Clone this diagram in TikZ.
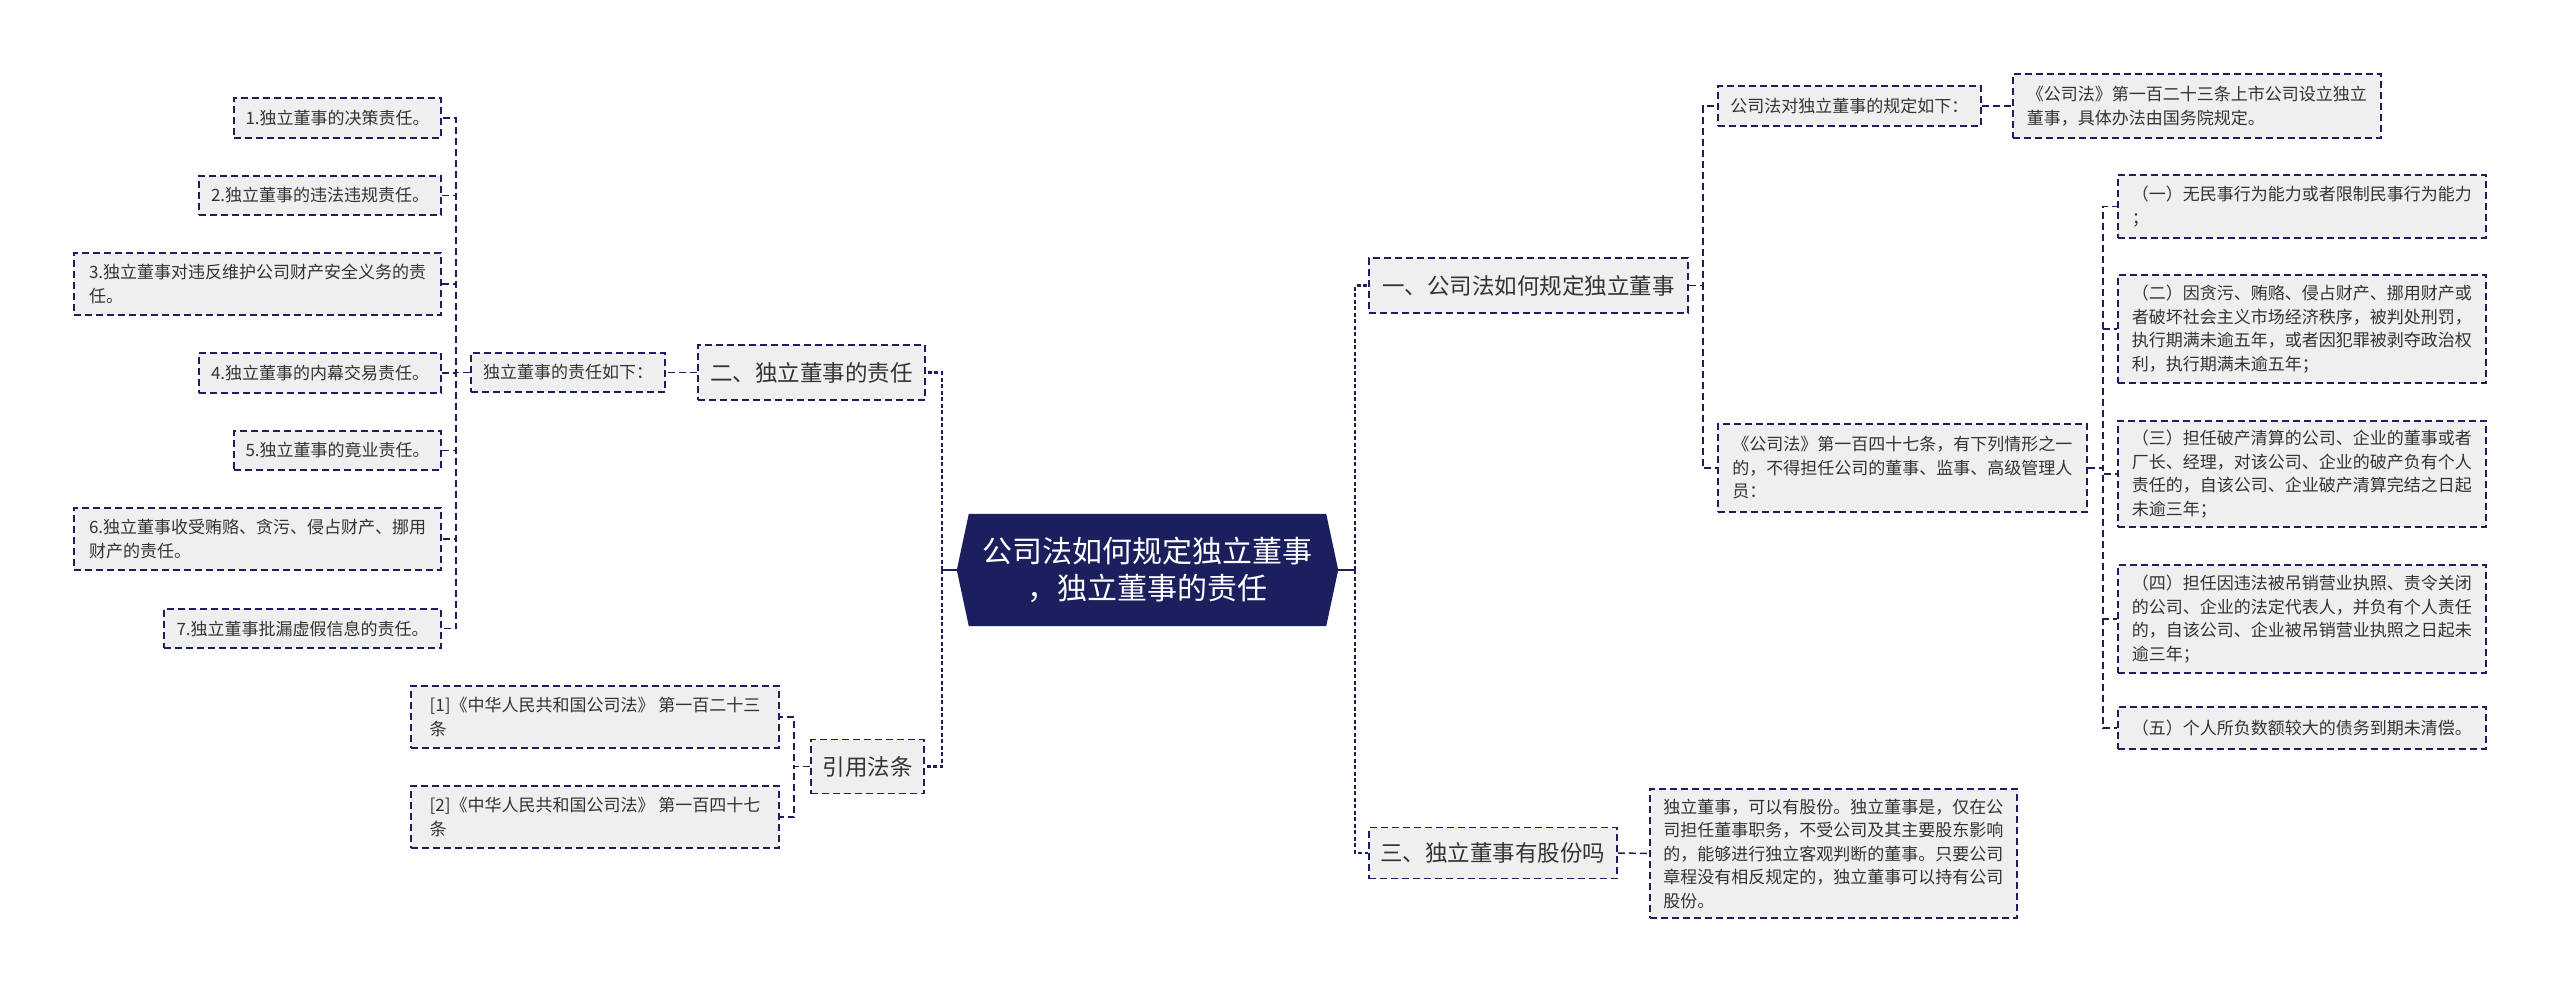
\documentclass[tikz,border=0pt]{standalone}
\usepackage{fontspec}
\setmainfont{Noto Sans CJK SC}
\usetikzlibrary{backgrounds}
\definecolor{navy}{HTML}{1B1F5E}
\definecolor{boxgray}{HTML}{EFEFEF}
\definecolor{txt}{HTML}{333333}
\begin{document}
\begin{tikzpicture}[x=1pt,y=-1pt,
  box/.style={draw=navy, line width=1.8pt, dash pattern=on 7pt off 4pt, fill=boxgray, text=txt, align=left, inner sep=0pt},
  leaf/.style={box, font=\fontsize{17pt}{23.5pt}\selectfont},
  mid/.style={box, font=\fontsize{22.5pt}{28pt}\selectfont},
  conn/.style={draw=navy, line width=1.5pt, dash pattern=on 7pt off 4pt},
  busconn/.style={draw=navy, line width=2.2pt, dash pattern=on 4pt off 2.5pt},
  stub/.style={draw=navy, line width=2.2pt},
]
\useasboundingbox (0,0) rectangle (2560,993);
\begin{scope}[on background layer]
\fill[white] (0,0) rectangle (2560,993);
\end{scope}

% center
\node[font=\fontsize{30pt}{37pt}\selectfont, text=white, align=center, minimum width=357pt, minimum height=112pt, inner sep=0pt] (ctr) at (1147.5,570) {公司法如何规定独立董事\\，独立董事的责任};
\begin{scope}[on background layer]
\fill[navy] (ctr.north west) -- (ctr.north east) -- ([xshift=12pt]ctr.east) -- (ctr.south east) -- (ctr.south west) -- ([xshift=-12pt]ctr.west) -- cycle;
\end{scope}

% left side
\node[leaf, anchor=east, minimum width=207pt, minimum height=40pt] (L1) at (442,118) {1.独立董事的决策责任。};
\node[leaf, anchor=east, minimum width=242pt, minimum height=39pt] (L2) at (442,195.5) {2.独立董事的违法违规责任。};
\node[leaf, anchor=east, minimum width=367pt, minimum height=62pt] (L3) at (442,284) {3.独立董事对违反维护公司财产安全义务的责\\任。};
\node[leaf, anchor=east, minimum width=242pt, minimum height=40pt] (L4) at (442,373) {4.独立董事的内幕交易责任。};
\node[leaf, anchor=east, minimum width=207pt, minimum height=39pt] (L5) at (442,450.5) {5.独立董事的竟业责任。};
\node[leaf, anchor=east, minimum width=367pt, minimum height=62pt] (L6) at (442,539) {6.独立董事收受贿赂、贪污、侵占财产、挪用\\财产的责任。};
\node[leaf, anchor=east, minimum width=277pt, minimum height=39pt] (L7) at (442,628.5) {7.独立董事批漏虚假信息的责任。};

\node[leaf, anchor=east, minimum width=194pt, minimum height=39pt] (rules) at (666,372.5) {独立董事的责任如下：};
\node[mid, anchor=east, minimum width=227pt, minimum height=55pt] (two) at (926,372.5) {二、独立董事的责任};
\node[mid, anchor=east, minimum width=113pt, minimum height=54pt] (cite) at (925,766.5) {引用法条};
\node[leaf, anchor=east, minimum width=368pt, minimum height=62pt] (R1) at (780,717) {[1]《中华人民共和国公司法》 第一百二十三\\条};
\node[leaf, anchor=east, minimum width=368pt, minimum height=62pt] (R2) at (780,817) {[2]《中华人民共和国公司法》 第一百四十七\\条};

% right side
\node[mid, anchor=west, minimum width=319pt, minimum height=55pt] (one) at (1368,285.5) {一、公司法如何规定独立董事};
\node[mid, anchor=west, minimum width=248pt, minimum height=51pt] (three) at (1368,853) {三、独立董事有股份吗};
\node[leaf, anchor=west, minimum width=263pt, minimum height=40pt] (rq) at (1717,106) {公司法对独立董事的规定如下：};
\node[leaf, anchor=west, minimum width=368pt, minimum height=64pt] (a123) at (2012,106) {《公司法》第一百二十三条上市公司设立独立\\董事，具体办法由国务院规定。};
\node[leaf, anchor=west, minimum width=369pt, minimum height=88pt] (a147) at (1717,468) {《公司法》第一百四十七条，有下列情形之一\\的，不得担任公司的董事、监事、高级管理人\\员：};
\node[leaf, anchor=west, minimum width=368pt, minimum height=63pt] (i1) at (2117,206.5) {（一）无民事行为能力或者限制民事行为能力\\；};
\node[leaf, anchor=west, minimum width=368pt, minimum height=108pt] (i2) at (2117,329) {（二）因贪污、贿赂、侵占财产、挪用财产或\\者破坏社会主义市场经济秩序，被判处刑罚，\\执行期满未逾五年，或者因犯罪被剥夺政治权\\利，执行期满未逾五年；};
\node[leaf, anchor=west, minimum width=368pt, minimum height=106pt] (i3) at (2117,474) {（三）担任破产清算的公司、企业的董事或者\\厂长、经理，对该公司、企业的破产负有个人\\责任的，自该公司、企业破产清算完结之日起\\未逾三年；};
\node[leaf, anchor=west, minimum width=368pt, minimum height=108pt] (i4) at (2117,619) {（四）担任因违法被吊销营业执照、责令关闭\\的公司、企业的法定代表人，并负有个人责任\\的，自该公司、企业被吊销营业执照之日起未\\逾三年；};
\node[leaf, anchor=west, minimum width=368pt, minimum height=42pt] (i5) at (2117,728) {（五）个人所负数额较大的债务到期未清偿。};
\node[leaf, anchor=west, minimum width=367pt, minimum height=129pt] (tb) at (1649,853.5) {独立董事，可以有股份。独立董事是，仅在公\\司担任董事职务，不受公司及其主要股东影响\\的，能够进行独立客观判断的董事。只要公司\\章程没有相反规定的，独立董事可以持有公司\\股份。};

% connectors: center
\coordinate (hexL) at ([xshift=-12pt]ctr.west);
\coordinate (hexR) at ([xshift=12pt]ctr.east);
\coordinate (cL) at (942,570);
\coordinate (cR) at (1355,570);
\draw[stub] (hexL) -- (cL);
\draw[stub] (hexR) -- (cR);
\draw[busconn] (cL) |- (two.east);
\draw[busconn] (cL) |- (cite.east);
\draw[busconn] (cR) |- (one.west);
\draw[busconn] (cR) |- (three.west);

% left branches
\draw[conn] (two.west) -- (rules.east);
\foreach \n in {L1,L2,L3,L4,L5,L6,L7}
  \draw[conn] (rules.west) -- ++(-14,0) |- (\n.east);
\foreach \n in {R1,R2}
  \draw[conn] (cite.west) -- ++(-16,0) |- (\n.east);

% right branches
\foreach \n in {rq,a147}
  \draw[conn] (one.east) -- ++(14,0) |- (\n.west);
\draw[conn] (rq.east) -- (a123.west);
\foreach \n in {i1,i2,i3,i4,i5}
  \draw[conn] (a147.east) -- ++(15,0) |- (\n.west);
\draw[conn] (three.east) -- (tb.west);
\end{tikzpicture}
\end{document}
